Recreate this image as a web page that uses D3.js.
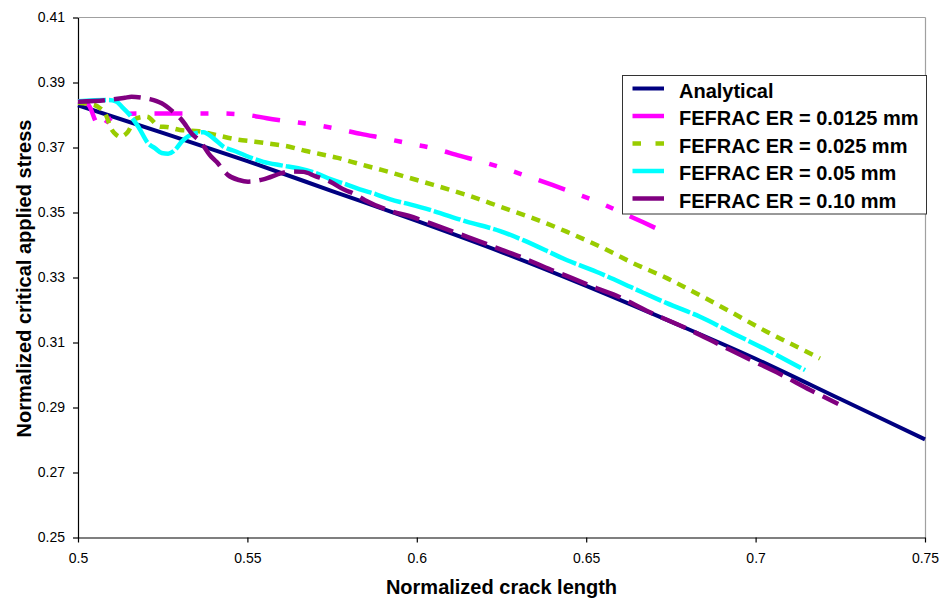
<!DOCTYPE html>
<html>
<head>
<meta charset="utf-8">
<script src="https://cdn.jsdelivr.net/npm/d3@7"></script>
<style>
	body { margin: 0; background: #fff; }
	svg { display: block; font-family: "Liberation Sans", Arial, sans-serif; }
</style>
</head>
<body>
<svg></svg>
<script>
/*
* Datos
*/
var xTicks = [0.5, 0.55, 0.6, 0.65, 0.7, 0.75];
var yTicks = [0.25, 0.27, 0.29, 0.31, 0.33, 0.35, 0.37, 0.39, 0.41];

var seriesNames = ['Analytical', 'FEFRAC ER = 0.0125 mm', 'FEFRAC ER = 0.025 mm', 'FEFRAC ER = 0.05 mm', 'FEFRAC ER = 0.10 mm'];

var analytical = [[0.5,0.3830],[0.525,0.3745],[0.55,0.3658],[0.575,0.3566],[0.6,0.3474],[0.625,0.3378],
	[0.65,0.3274],[0.675,0.3164],[0.7,0.3050],[0.725,0.2926],[0.75,0.2802]];

var er0125 = [[0.5,0.3842],[0.503,0.3832],[0.5055,0.3774],[0.5068,0.3757],[0.5085,0.3779],[0.5115,0.3800],
	[0.514,0.3804],[0.525,0.3805],[0.54,0.3805],[0.55,0.3800],[0.5557,0.3790],[0.5626,0.3780],[0.5705,0.3769],
	[0.5763,0.3758],[0.5835,0.3742],[0.5905,0.3728],[0.5975,0.3713],[0.605,0.3697],[0.6128,0.3674],[0.6186,0.3658],
	[0.6265,0.3633],[0.6325,0.3612],[0.64,0.3585],[0.6467,0.3559],[0.654,0.3530],[0.66,0.3502],[0.667,0.3469],
	[0.6745,0.3432]];

var er025 = [[0.5,0.3838],[0.5045,0.3832],[0.5065,0.3821],[0.508,0.3805],[0.51,0.3754],[0.5114,0.3738],
	[0.5124,0.3733],[0.5144,0.3744],[0.5173,0.3790],[0.5203,0.3795],[0.5242,0.3764],[0.5262,0.3763],[0.5301,0.3754],
	[0.5357,0.3750],[0.5409,0.3738],[0.5468,0.3725],[0.5522,0.3718],[0.5572,0.3711],[0.5621,0.3703],[0.5670,0.3690],
	[0.5714,0.3680],[0.5763,0.3669],[0.5808,0.3656],[0.5852,0.3643],[0.5896,0.3631],[0.594,0.3618],[0.6049,0.3585],
	[0.6147,0.3554],[0.6246,0.3518],[0.6344,0.3482],[0.6442,0.3441],[0.6541,0.3395],[0.6639,0.3344],[0.6738,0.3298],
	[0.6836,0.3245],[0.6934,0.3190],[0.7033,0.3133],[0.7131,0.3082],[0.719,0.3051]];

var er05 = [[0.5,0.3842],[0.509,0.3846],[0.5112,0.3842],[0.5129,0.3826],[0.5153,0.3800],[0.5178,0.3764],
	[0.5207,0.3713],[0.5227,0.3698],[0.5247,0.3683],[0.5266,0.3681],[0.5286,0.3692],[0.5306,0.3718],[0.5326,0.3735],
	[0.5355,0.3746],[0.537,0.3747],[0.5400,0.3728],[0.5429,0.3703],[0.5468,0.3687],[0.5507,0.3670],[0.5547,0.3656],
	[0.5600,0.3645],[0.5650,0.3636],[0.5700,0.3622],[0.5745,0.3603],[0.5790,0.3587],[0.5832,0.3571],[0.5880,0.3556],
	[0.5920,0.3541],[0.5980,0.3525],[0.6039,0.3508],[0.6147,0.3472],[0.6246,0.3443],[0.6314,0.3415],[0.6442,0.3354],
	[0.6541,0.3313],[0.6639,0.3267],[0.6738,0.3221],[0.6836,0.3179],[0.6934,0.3128],[0.7033,0.3077],[0.7146,0.3015]];

var er10 = [[0.5,0.3841],[0.5085,0.3846],[0.5138,0.3853],[0.5158,0.3856],[0.5190,0.3853],[0.5212,0.3849],
	[0.5232,0.3843],[0.5247,0.3836],[0.5275,0.3815],[0.5306,0.3785],[0.5340,0.3738],[0.5360,0.3720],[0.5389,0.3677],
	[0.5409,0.3656],[0.5443,0.3615],[0.5475,0.3600],[0.5502,0.3595],[0.5547,0.3602],[0.5601,0.3621],[0.5621,0.3626],
	[0.5665,0.3625],[0.5700,0.3612],[0.5744,0.3595],[0.5788,0.3569],[0.5812,0.3559],[0.5847,0.3538],[0.5931,0.3502],
	[0.5975,0.3490],[0.6039,0.3467],[0.6147,0.3426],[0.6251,0.3385],[0.6305,0.3364],[0.6398,0.3323],[0.6442,0.3305],
	[0.6531,0.3267],[0.658,0.3248],[0.6688,0.3193],[0.6797,0.3143],[0.69,0.3090],[0.6974,0.3052],[0.7072,0.3003],
	[0.7161,0.2954],[0.7244,0.2911]];

// estilos de cada serie
var colors = ['#000080', '#ff00ff', '#99cc00', '#00ffff', '#800080'];
var widths = [4, 4.5, 4.5, 4.5, 4.5];
var dashes = ['none', '28,18,8,18,8,18', '9,7', '28,3', '27,9'];
var legendDashes = ['none', 'none', '8.5,14.5', 'none', 'none'];

var w = 940,
	h = 601,
	pLeft = 78,
	pRight = 925,
	pTop = 17.5,
	pBottom = 537.5,
	svg = d3.select('svg').attr('width', w).attr('height', h);

var x = d3.scaleLinear().domain([0.5, 0.75]).range([pLeft, pRight]);
var y = d3.scaleLinear().domain([0.25, 0.41]).range([pBottom, pTop]);

// marco gris arriba y a la derecha
svg.append('line')
	.attr('x1', pLeft).attr('x2', pRight + 0.5)
	.attr('y1', pTop).attr('y2', pTop)
	.attr('stroke', '#a0a0a0').attr('stroke-width', 1.2);
svg.append('line')
	.attr('x1', pRight + 0.5).attr('x2', pRight + 0.5)
	.attr('y1', pTop).attr('y2', pBottom)
	.attr('stroke', '#a0a0a0').attr('stroke-width', 1.2);

/*
* Ejes
*/
var yAxis = svg.append('g')
	.attr('transform', 'translate(' + pLeft + ',0)')
	.call(d3.axisLeft(y).tickValues(yTicks).tickFormat(d3.format('.2f')).tickSize(5).tickSizeOuter(0).tickPadding(8));

var xAxis = svg.append('g')
	.attr('transform', 'translate(0,' + pBottom + ')')
	.call(d3.axisBottom(x).tickValues(xTicks).tickFormat(function(d){ return String(+d.toFixed(2)); }).tickSize(5).tickSizeOuter(0).tickPadding(10.5));

svg.selectAll('.tick text')
	.attr('font-size', 14)
	.style('font-size', '14px')
	.attr('fill', '#000');
svg.selectAll('.domain, .tick line')
	.attr('stroke', '#000')
	.attr('stroke-width', 1.2);

svg.append('text')
	.attr('x', (pLeft + pRight) / 2)
	.attr('y', 594)
	.attr('text-anchor', 'middle')
	.style('font-size', '20px')
	.style('font-weight', 'bold')
	.text('Normalized crack length');

svg.append('text')
	.attr('transform', 'translate(30.5,' + ((pTop + pBottom) / 2 + 1) + ') rotate(-90)')
	.attr('text-anchor', 'middle')
	.style('font-size', '20px')
	.style('font-weight', 'bold')
	.text('Normalized critical applied stress');

/*
* Series
*/
var allSeries = [analytical, er0125, er025, er05, er10];

var line = d3.line()
	.x(function(d){ return x(d[0]); })
	.y(function(d){ return y(d[1]); })
	.curve(d3.curveMonotoneX);

svg.selectAll('.serie')
	.data(allSeries)
	.enter()
	.append('path')
	.attr('class', 'serie')
	.attr('d', line)
	.attr('fill', 'none')
	.attr('stroke', function(d, i){ return colors[i]; })
	.attr('stroke-width', function(d, i){ return widths[i]; })
	.attr('stroke-dasharray', function(d, i){ return dashes[i]; })
	.attr('stroke-linecap', 'butt')
	.attr('stroke-linejoin', 'round');

/*
* Leyenda
*/
var legend = svg.append('g');
legend.append('rect')
	.attr('x', 622.5)
	.attr('y', 75.5)
	.attr('width', 304)
	.attr('height', 138.5)
	.attr('fill', '#fff')
	.attr('stroke', '#333')
	.attr('stroke-width', 1);

var rows = legend.selectAll('.fila')
	.data(seriesNames)
	.enter()
	.append('g')
	.attr('class', 'fila')
	.attr('transform', function(d, i){ return 'translate(0,' + (97.5 + i * 27.5) + ')'; });

rows.append('line')
	.attr('x1', 632.5).attr('x2', 664)
	.attr('y1', -9).attr('y2', -9)
	.attr('stroke', function(d, i){ return colors[i]; })
	.attr('stroke-width', function(d, i){ return widths[i]; })
	.attr('stroke-dasharray', function(d, i){ return legendDashes[i]; });

rows.append('text')
	.attr('x', 679)
	.attr('y', 0)
	.style('font-size', '20px')
	.style('font-weight', 'bold')
	.text(function(d){ return d; });
</script>
</body>
</html>
